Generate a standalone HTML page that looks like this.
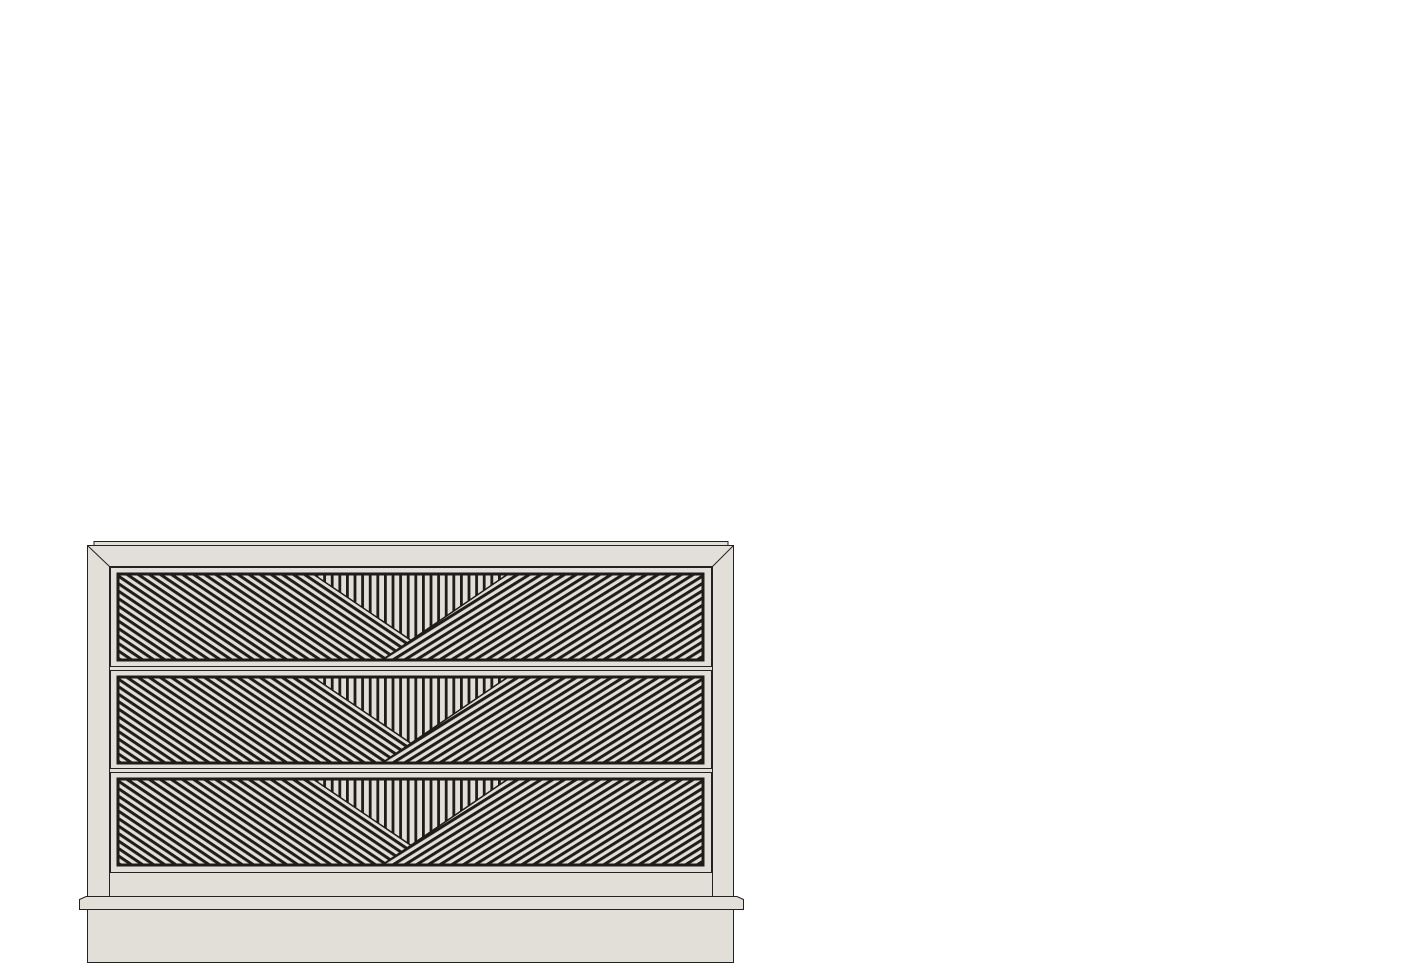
<!DOCTYPE html>
<html><head><style>html,body{margin:0;padding:0;background:#fff;}svg{display:block}</style></head>
<body>
<svg width="1401" height="971" viewBox="0 0 1401 971" xmlns="http://www.w3.org/2000/svg">
<defs>
<pattern id="pv" patternUnits="userSpaceOnUse" width="7.6" height="10">
<rect width="7.6" height="10" fill="#e2ded8"/><rect x="0" width="2.8" height="10" fill="#1e1c1a"/>
</pattern>
<pattern id="pl" patternUnits="userSpaceOnUse" width="10" height="6.2" patternTransform="rotate(34)">
<rect width="10" height="6.2" fill="#e2ded8"/><rect y="0" width="10" height="3" fill="#1e1c1a"/>
</pattern>
<pattern id="pr" patternUnits="userSpaceOnUse" width="10" height="6.2" patternTransform="rotate(-32)">
<rect width="10" height="6.2" fill="#e2ded8"/><rect y="0" width="10" height="3" fill="#1e1c1a"/>
</pattern>
<g id="panel">
<rect x="0" y="0" width="585" height="86" fill="url(#pv)"/>
<polygon points="0,0 195,0 322,86 0,86" fill="url(#pl)" stroke="#1e1c1a" stroke-width="1.5"/>
<polygon points="390,0 585,0 585,86 264,86" fill="url(#pr)" stroke="#1e1c1a" stroke-width="1.5"/>
<rect x="0" y="0" width="585" height="86" fill="none" stroke="#1e1c1a" stroke-width="3"/>
</g>
</defs>
<g fill="#e2ded8" stroke="#222" stroke-width="1">
<rect x="94" y="541.5" width="634" height="4"/>
<rect x="87.5" y="545.5" width="646" height="351"/>
<rect x="109.5" y="566.5" width="603" height="330"/>
<line x1="87.5" y1="545.5" x2="109.5" y2="566.5"/>
<line x1="733.5" y1="545.5" x2="712.5" y2="566.5"/>
<rect x="110.5" y="567.5" width="601" height="99"/>
<rect x="110.5" y="670.5" width="601" height="98"/>
<rect x="110.5" y="772.5" width="601" height="100"/>
<rect x="87.5" y="909.5" width="646" height="53"/>
<polygon points="79.5,899.5 86,896.5 737,896.5 743.5,899.5 743.5,909.5 79.5,909.5"/>
</g>
<use href="#panel" x="118" y="574"/>
<use href="#panel" x="118" y="677"/>
<use href="#panel" x="118" y="779"/>
</svg>
</body></html>
